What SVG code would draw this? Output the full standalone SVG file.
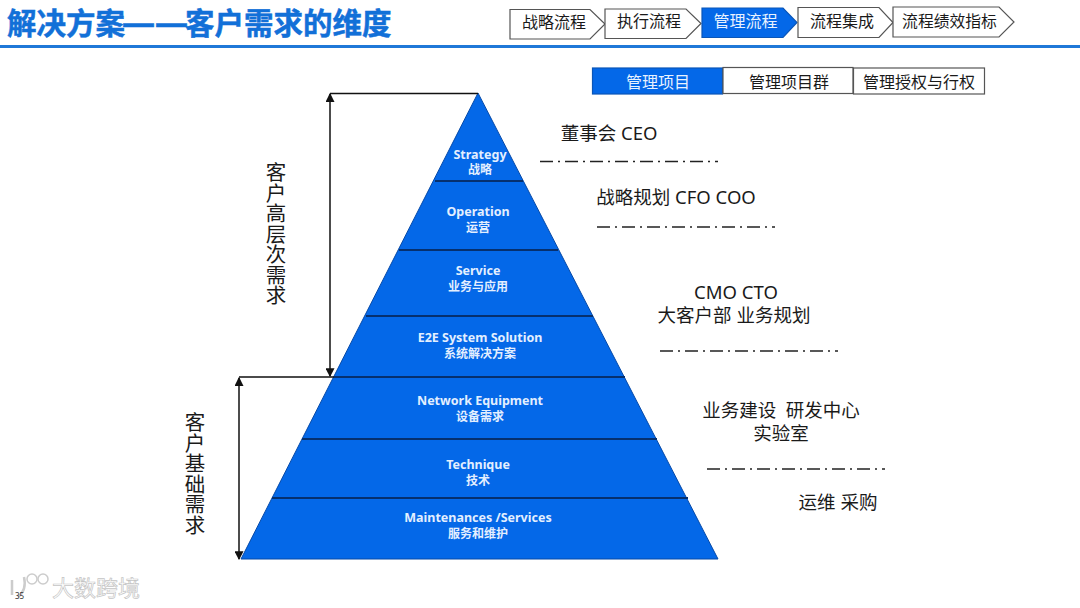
<svg xmlns="http://www.w3.org/2000/svg" width="1080" height="608" viewBox="0 0 1080 608">
<style>
text{font-family:"Noto Sans","Noto Sans CJK SC",sans-serif;fill:#1a1a1a}
.tab{font-size:16px;text-anchor:middle}
.box{fill:#fff;stroke:#555;stroke-width:1.2}
.on{fill:#0468e8;stroke:#0a56b8}
.w{fill:#e8f2ff}
.lab{font-size:18.5px;text-anchor:middle}
.en{font-size:12.5px;font-weight:700;text-anchor:middle;fill:#e3efff}
.cn{font-size:12px;font-weight:700;text-anchor:middle;fill:#e3efff}
.div{stroke:#06306e;stroke-width:1.8}
.dash{stroke:#222;stroke-width:1.5;stroke-dasharray:13 5 2 5;fill:none}
.dim{stroke:#111;stroke-width:1.5;fill:none}
.vert{font-size:20.5px;writing-mode:vertical-rl;text-orientation:upright;text-anchor:middle}
.title{font-size:29.5px;font-weight:700;fill:#1270d8;stroke:#1270d8;stroke-width:.5}
</style>
<defs>
<marker id="arr" viewBox="0 0 8 8" refX="7" refY="4" markerWidth="6" markerHeight="6" orient="auto-start-reverse"><path d="M0 0L8 4L0 8Z" fill="#111"/></marker>
</defs>
<rect width="1080" height="608" fill="#fff"/>
<g id="header">
<text class="title" y="34"><tspan x="7">解决方案</tspan><tspan x="122" textLength="66" lengthAdjust="spacingAndGlyphs">——</tspan><tspan x="185">客户需求的维度</tspan></text>
<rect x="0" y="45" width="1080" height="3" fill="#1f78d8"/>
</g>
<g id="step1"><path class="box" d="M510 9.500H590L605 24L590 39H510Z"/><text class="tab" x="554" y="27.500">战略流程</text></g>
<g id="step2"><path class="box" d="M605 9H686L701 23.500L686 38.500H605Z"/><text class="tab" x="649" y="27">执行流程</text></g>
<g id="step3"><path class="box on" d="M702 8H783L797 22.500L783 37.500H702Z"/><text class="tab w" x="745.500" y="27">管理流程</text></g>
<g id="step4"><path class="box" d="M798 7.500H879L893 22.500L879 37.500H798Z"/><text class="tab" x="842" y="27">流程集成</text></g>
<g id="step5"><path class="box" d="M893 7H999L1014 22L999 37H893Z"/><text class="tab" x="949.500" y="27" style="font-size:15.8px">流程绩效指标</text></g>
<g id="tab1"><rect class="box on" x="592.500" y="68" width="130" height="26"/><text class="tab w" x="658" y="88">管理项目</text></g>
<g id="tab2"><rect class="box" x="723" y="67.500" width="130" height="26"/><text class="tab" x="789" y="87.500">管理项目群</text></g>
<g id="tab3"><rect class="box" x="853.500" y="68" width="131" height="26"/><text class="tab" x="919" y="87.500">管理授权与行权</text></g>
<g id="pyramid">
<path d="M478 93L718 559H241Z" fill="#0468e8" stroke="#074aa8" stroke-width="1"/>
<line class="div" x1="435" y1="181" x2="523" y2="181"/>
<line class="div" x1="399" y1="250" x2="558" y2="250"/>
<line class="div" x1="366" y1="316" x2="593" y2="316"/>
<line class="div" x1="334" y1="377" x2="625" y2="377"/>
<line class="div" x1="302" y1="439" x2="657" y2="439"/>
<line class="div" x1="272" y1="498" x2="688" y2="498"/>
</g>
<g id="layer-strategy"><text class="en" x="480" y="159">Strategy</text><text class="cn" x="480" y="174">战略</text></g>
<g id="layer-operation"><text class="en" x="478" y="216">Operation</text><text class="cn" x="478" y="232">运营</text></g>
<g id="layer-service"><text class="en" x="478" y="275">Service</text><text class="cn" x="478" y="291">业务与应用</text></g>
<g id="layer-e2e"><text class="en" x="480" y="342">E2E System Solution</text><text class="cn" x="480" y="358">系统解决方案</text></g>
<g id="layer-network"><text class="en" x="480" y="405">Network Equipment</text><text class="cn" x="480" y="421">设备需求</text></g>
<g id="layer-technique"><text class="en" x="478" y="469">Technique</text><text class="cn" x="478" y="485">技术</text></g>
<g id="layer-maintenance"><text class="en" x="478" y="522">Maintenances /Services</text><text class="cn" x="478" y="538">服务和维护</text></g>
<g id="connectors">
<path class="dim" d="M330 93.500H478M239 377H334"/>
<line class="dim" x1="330" y1="94" x2="330" y2="376" marker-start="url(#arr)" marker-end="url(#arr)"/>
<line class="dim" x1="239" y1="378" x2="239" y2="559" marker-start="url(#arr)" marker-end="url(#arr)"/>
<line class="dash" x1="540" y1="161.500" x2="718" y2="161.500"/>
<line class="dash" x1="597" y1="227" x2="775" y2="227"/>
<line class="dash" x1="660" y1="351" x2="838" y2="351"/>
<line class="dash" x1="707" y1="469" x2="885" y2="469"/>
</g>
<g id="label-high"><text class="vert" x="275" y="234">客户高层次需求</text></g>
<g id="label-base"><text class="vert" x="194" y="473.500">客户基础需求</text></g>
<g id="role1"><text class="lab" x="609" y="140">董事会 CEO</text></g>
<g id="role2"><text class="lab" x="676" y="204">战略规划 CFO COO</text></g>
<g id="role3"><text class="lab" x="736" y="299">CMO CTO</text><text class="lab" x="734" y="322">大客户部 业务规划</text></g>
<g id="role4"><text class="lab" x="781" y="417">业务建设&#160;&#160;研发中心</text><text class="lab" x="781" y="440">实验室</text></g>
<g id="role5"><text class="lab" x="838" y="509">运维 采购</text></g>
<g id="watermark">
<circle cx="32" cy="579" r="5" fill="none" stroke="#ccc" stroke-width="1.500"/><circle cx="43" cy="579" r="5" fill="none" stroke="#ccc" stroke-width="1.500"/>
<path d="M12 595V580M24 577Q27 590 18 597" fill="none" stroke="#ccc" stroke-width="2.500"/>
<text x="52" y="596" font-size="22" style="fill:#fff;stroke:#c4c4c4;stroke-width:.7">大数跨境</text>
<text x="15" y="599" font-size="8" style="fill:#333">35</text>
</g>
</svg>
